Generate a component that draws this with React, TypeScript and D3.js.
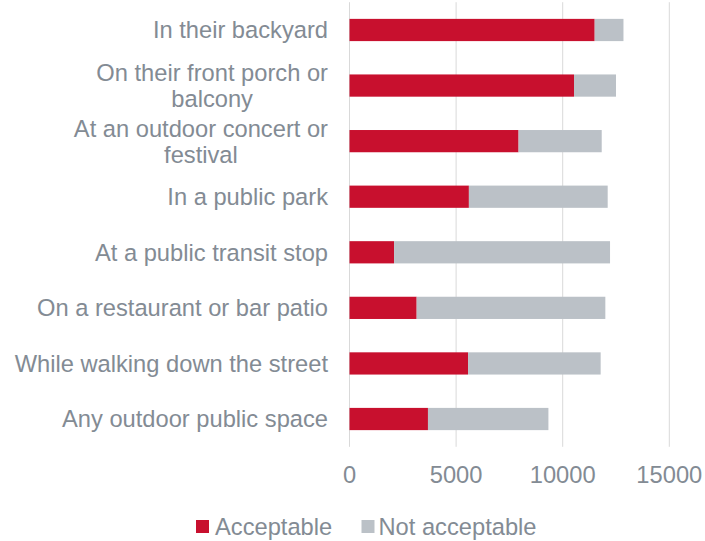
import React, { useEffect, useRef } from "react";
import * as d3 from "d3";

const categories = [
  "In their backyard",
  "On their front porch or balcony",
  "At an outdoor concert or festival",
  "In a public park",
  "At a public transit stop",
  "On a restaurant or bar patio",
  "While walking down the street",
  "Any outdoor public space",
];
const acceptable = [11500, 10530, 7930, 5600, 2090, 3150, 5560, 3680];
const notAcceptable = [1350, 1970, 3900, 6510, 10130, 8850, 6220, 5650];
const xTicks = [0, 5000, 10000, 15000];
const seriesNames = ["Acceptable", "Not acceptable"];
const seriesColors = ["#C8102E", "#BBC1C7"];

const W = 705;
const H = 541;
const FONT = "'Liberation Sans', Arial, sans-serif";
const FS = 23.7;
const TEXT = "#838B94";

export default function App() {
  const ref = useRef<SVGSVGElement>(null);

  useEffect(() => {
    const svg = d3.select(ref.current);
    svg.selectAll("*").remove();

    const x = d3.scaleLinear().domain([0, 15000]).range([349.5, 669.3]);
    const y = d3
      .scaleBand<string>()
      .domain(categories)
      .range([2.2, 446.8])
      .paddingInner(0.6)
      .paddingOuter(0.3);

    // gridlines
    svg
      .append("g")
      .selectAll("line")
      .data(xTicks)
      .join("line")
      .attr("x1", (d) => x(d))
      .attr("x2", (d) => x(d))
      .attr("y1", 2.2)
      .attr("y2", 446.8)
      .attr("stroke", "#D9D9D9")
      .attr("stroke-width", 1);

    // stacked bars
    const rows = categories.map((c, i) => ({
      cat: c,
      Acceptable: acceptable[i],
      "Not acceptable": notAcceptable[i],
    }));
    const stack = d3.stack<any>().keys(seriesNames)(rows);
    svg
      .append("g")
      .selectAll("g")
      .data(stack)
      .join("g")
      .attr("fill", (_, i) => seriesColors[i])
      .selectAll("rect")
      .data((s) => s)
      .join("rect")
      .attr("x", (d) => x(d[0]))
      .attr("width", (d) => x(d[1]) - x(d[0]))
      .attr("y", (d) => y((d.data as any).cat)!)
      .attr("height", y.bandwidth());

    // x tick labels
    svg
      .append("g")
      .selectAll("text")
      .data(xTicks)
      .join("text")
      .attr("x", (d) => x(d))
      .attr("y", 483)
      .attr("text-anchor", "middle")
      .attr("font-family", FONT)
      .attr("font-size", FS)
      .attr("fill", TEXT)
      .text((d) => String(d));

    // category labels with wrapping
    const maxW = 316;
    const lineH = 26;
    const labelX = 328;
    const gLabels = svg.append("g");
    categories.forEach((c) => {
      const t = gLabels
        .append("text")
        .attr("font-family", FONT)
        .attr("font-size", FS)
        .attr("fill", TEXT);
      const words = c.split(" ");
      const lines: string[] = [];
      let cur: string[] = [];
      const probe = t.append("tspan");
      words.forEach((w) => {
        const test = [...cur, w].join(" ");
        probe.text(test);
        const len = (probe.node() as SVGTSpanElement).getComputedTextLength();
        if (len > maxW && cur.length) {
          lines.push(cur.join(" "));
          cur = [w];
        } else {
          cur.push(w);
        }
      });
      if (cur.length) lines.push(cur.join(" "));
      probe.remove();
      const widths = lines.map((l) => {
        const p = t.append("tspan").text(l);
        const wv = (p.node() as SVGTSpanElement).getComputedTextLength();
        p.remove();
        return wv;
      });
      const blockW = Math.max(...widths);
      const cx = labelX - blockW / 2;
      const cy = y(c)! + y.bandwidth() / 2;
      const n = lines.length;
      lines.forEach((l, i) => {
        t.append("tspan")
          .attr("x", cx)
          .attr("y", cy + (i - (n - 1) / 2) * lineH + 8.4)
          .attr("text-anchor", "middle")
          .text(l);
      });
    });

    // legend
    const legend = [
      { sx: 196, tx: 215 },
      { sx: 361.5, tx: 378.5 },
    ];
    const lg = svg.append("g");
    seriesNames.forEach((s, i) => {
      lg.append("rect")
        .attr("x", legend[i].sx)
        .attr("y", 520)
        .attr("width", 13)
        .attr("height", 13)
        .attr("fill", seriesColors[i]);
      lg.append("text")
        .attr("x", legend[i].tx)
        .attr("y", 534.5)
        .attr("font-family", FONT)
        .attr("font-size", FS)
        .attr("fill", TEXT)
        .text(s);
    });
  }, []);

  return (
    <svg
      ref={ref}
      width={W}
      height={H}
      style={{ position: "absolute", left: 0, top: 0, background: "#fff" }}
    />
  );
}
